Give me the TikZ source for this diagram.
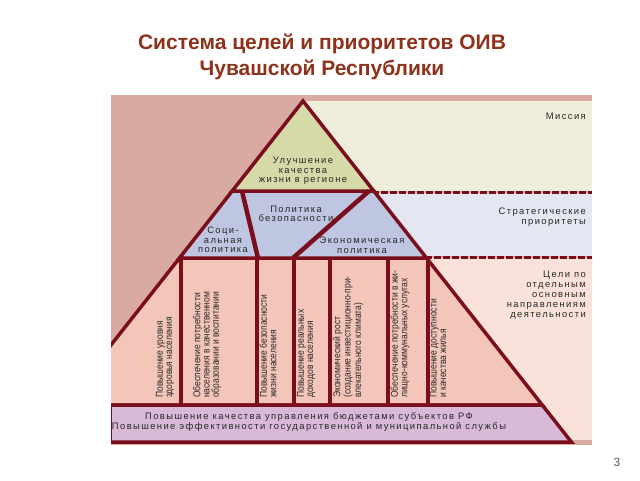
\documentclass[tikz,border=0pt]{standalone}
\usepackage{fontspec}
\setmainfont{Liberation Sans}
\newfontfamily\lblfont[LetterSpace=15]{Liberation Sans}
\newfontfamily\condfont[FakeStretch=0.85]{Liberation Sans}
\definecolor{panelbg}{RGB}{216,170,162}
\definecolor{missionbg}{RGB}{238,238,218}
\definecolor{stratbg}{RGB}{228,230,242}
\definecolor{goalbg}{RGB}{250,226,218}
\definecolor{topfill}{RGB}{214,218,168}
\definecolor{midfill}{RGB}{190,198,226}
\definecolor{lowfill}{RGB}{244,198,186}
\definecolor{barfill}{RGB}{216,186,216}
\definecolor{edge}{RGB}{122,14,28}
\definecolor{txt}{RGB}{40,40,40}
\definecolor{titlec}{RGB}{142,50,28}
\tikzset{
  region/.style={draw=edge, line width=3.5pt, line join=miter},
  divider/.style={draw=edge, line width=4pt},
  sep/.style={draw=edge, line width=3pt, dash pattern=on 7pt off 2pt},
  lbl/.style={font=\lblfont\fontsize{9.4}{9.6}\selectfont, text=txt, align=center, inner sep=0pt},
  rlbl/.style={font=\lblfont\fontsize{9.4}{10}\selectfont, text=txt, align=right, inner sep=0pt, anchor=north east},
  coltxt/.style={rotate=90, anchor=west, align=left, font=\condfont\fontsize{10}{9.3}\selectfont, text=txt, inner sep=0pt}
}
\begin{document}
\begin{tikzpicture}[x=1pt,y=-1pt]
\useasboundingbox (0,0) rectangle (640,480);
% title
\node[font=\bfseries\fontsize{21}{26}\selectfont, text=titlec, anchor=base] (t1) at (322,49) {Система целей и приоритетов ОИВ};
\node[font=\bfseries\fontsize{21}{26}\selectfont, text=titlec, anchor=base] (t2) at (322,75) {Чувашской Республики};
\node[font=\fontsize{12}{12}\selectfont, text=black!65] (pg) at (617,462) {3};
% panel
\fill[panelbg] (111,95) rectangle (592,445);
\fill[missionbg] (303,101) rectangle (592,191);
\fill[stratbg] (303,193) rectangle (592,256);
\fill[goalbg] (303,258) rectangle (592,440);
\draw[sep] (372,192) -- (592,192);
\draw[sep] (425,257) -- (592,257);
\begin{scope}
\clip (111,95) rectangle (592,445);
% lower band
\path[region, fill=lowfill] (179.5,258) -- (426.5,258) -- (542.2,405) -- (63.7,405) -- cycle;
% middle band
\path[region, fill=midfill] (232.2,191) -- (373.8,191) -- (426.5,258) -- (179.5,258) -- cycle;
% top triangle
\path[region, fill=topfill] (303,101) -- (373.8,191) -- (232.2,191) -- cycle;
% bottom bar
\path[region, fill=barfill] (110,405) -- (542.2,405) -- (571.4,442) -- (110,442) -- cycle;
% column dividers
\foreach \xx/\nm in {181/d1,257/d2,294/d3,330/d4,388/d5,428/d6}{
  \coordinate (\nm a) at (\xx,258);
  \coordinate (\nm b) at (\xx,405);
  \draw[divider] (\nm a) -- (\nm b);
}
% middle dividers
\coordinate (m1a) at (242,191); \coordinate (m1b) at (258,258);
\coordinate (m2a) at (369,191); \coordinate (m2b) at (293,258);
\draw[divider, line width=4.5pt] (m1a) -- (m1b);
\draw[divider, line width=4.5pt] (m2a) -- (m2b);
\end{scope}
% pyramid labels
\node[lbl] (top) at (303,171) {Улучшение\\качества\\жизни в регионе};
\node[lbl] (soc) at (223,240) {Соци-\\альная\\политика};
\node[lbl] (sec) at (296,214) {Политика\\безопасности};
\node[lbl] (eco) at (362,245) {Экономическая\\политика};
\node[lbl] (bar) at (309,422) {Повышение качества управления бюджетами субъектов РФ\\Повышение эффективности государственной и муниципальной службы};
% right labels
\node[rlbl] (mis) at (586,113) {Миссия};
\node[rlbl] (str) at (586,208) {Стратегические\\приоритеты};
\node[rlbl] (gol) at (586,271) {Цели по\\отдельным\\основным\\направлениям\\деятельности};
% column texts
\node[coltxt] (c1) at (165,398) {Повышение уровня\\здоровья населения};
\node[coltxt] (c2) at (207,398) {Обеспечение потребности\\населения в качественном\\образовании и воспитании};
\node[coltxt] (c3) at (268,398) {Повышение безопасности\\жизни населения};
\node[coltxt] (c4) at (306,398) {Повышение реальных\\доходов населения};
\node[coltxt] (c5) at (348,398) {Экономический рост\\(создание инвестиционно-при-\\влекательного климата)};
\node[coltxt] (c6) at (400,398) {Обеспечение потребности в жи-\\лищно-коммунальных услугах};
\node[coltxt] (c7) at (438,398) {Повышение доступности\\и качества жилья};
\end{tikzpicture}
\end{document}
